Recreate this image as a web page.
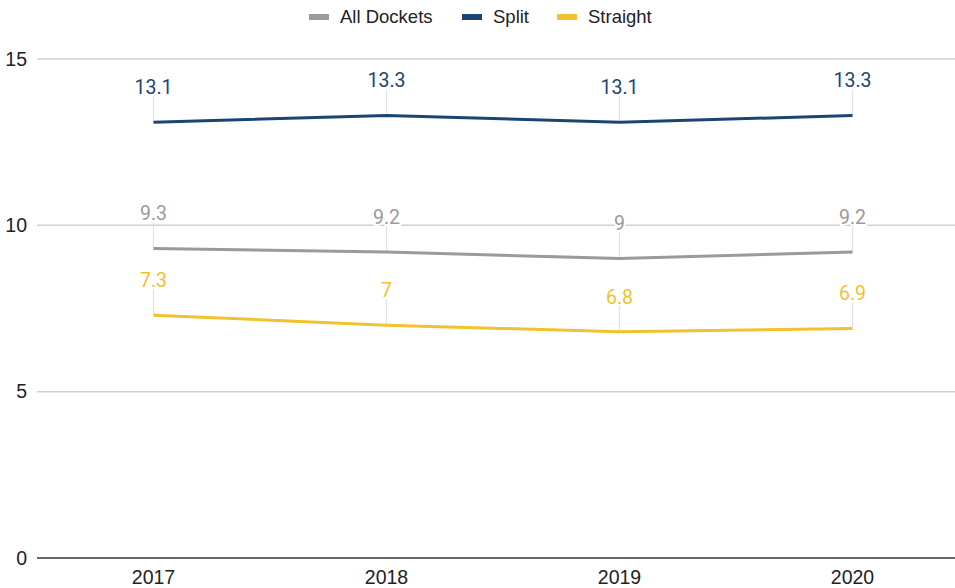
<!DOCTYPE html>
<html>
<head>
<meta charset="utf-8">
<script src="https://cdn.jsdelivr.net/npm/d3@7"></script>
<style>
  body { margin: 0; background: #fff; }
</style>
</head>
<body>
<div class="chart"></div>
<script>
// data
const years = ["2017", "2018", "2019", "2020"];
const allDockets = [9.3, 9.2, 9, 9.2];
const split = [13.1, 13.3, 13.1, 13.3];
const straight = [7.3, 7, 6.8, 6.9];
const yTicks = [0, 5, 10, 15];

const series = [
  { name: "All Dockets", values: allDockets, color: "#9a9a9a" },
  { name: "Split", values: split, color: "#1b4473" },
  { name: "Straight", values: straight, color: "#f2c12e" }
];

const width = 955,
  height = 588;
const margin = { top: 59, right: -14, bottom: 30, left: 37 };

const svg = d3
  .select(".chart")
  .append("svg")
  .attr("width", width)
  .attr("height", height);

const x = d3
  .scaleBand()
  .domain(years)
  .range([margin.left, width - margin.right]);

const y = d3
  .scaleLinear()
  .domain([0, 15])
  .range([height - margin.bottom, margin.top]);

const cx = d => x(d) + x.bandwidth() / 2;

// gridlines
svg
  .append("g")
  .selectAll("line")
  .data(yTicks.filter(t => t > 0))
  .join("line")
  .attr("x1", margin.left)
  .attr("x2", width)
  .attr("y1", d => y(d))
  .attr("y2", d => y(d))
  .attr("stroke", "#d0d0d0")
  .attr("stroke-width", 1.5);

// baseline
svg
  .append("line")
  .attr("x1", margin.left)
  .attr("x2", width)
  .attr("y1", y(0))
  .attr("y2", y(0))
  .attr("stroke", "#333")
  .attr("stroke-width", 1.5);

// y tick labels
svg
  .append("g")
  .selectAll("text")
  .data(yTicks)
  .join("text")
  .attr("x", 27)
  .attr("y", d => y(d))
  .attr("dy", "0.35em")
  .attr("text-anchor", "end")
  .attr("font-family", "Liberation Sans, Arial, sans-serif")
  .attr("font-size", "19.5px")
  .attr("fill", "#222")
  .text(d => d);

// x tick labels
svg
  .append("g")
  .selectAll("text")
  .data(years)
  .join("text")
  .attr("x", d => cx(d))
  .attr("y", y(0) + 19)
  .attr("dy", "0.35em")
  .attr("text-anchor", "middle")
  .attr("font-family", "Liberation Sans, Arial, sans-serif")
  .attr("font-size", "19.5px")
  .attr("fill", "#222")
  .text(d => d);

// leader lines
series.forEach(s => {
  svg
    .append("g")
    .selectAll("line")
    .data(years)
    .join("line")
    .attr("x1", d => cx(d))
    .attr("x2", d => cx(d))
    .attr("y1", (d, i) => y(s.values[i]) - 26)
    .attr("y2", (d, i) => y(s.values[i]))
    .attr("stroke", "#e2e2e2")
    .attr("stroke-width", 1.2);
});

const line = d3
  .line()
  .x((d, i) => cx(years[i]))
  .y(d => y(d));

// lines
series.forEach(s => {
  svg
    .append("path")
    .datum(s.values)
    .attr("fill", "none")
    .attr("stroke", s.color)
    .attr("stroke-width", 3)
    .attr("d", line);
});

// data labels
series.forEach(s => {
  svg
    .append("g")
    .selectAll("text")
    .data(s.values)
    .join("text")
    .attr("x", (d, i) => cx(years[i]))
    .attr("y", d => y(d) - 35)
    .attr("dy", "0.35em")
    .attr("text-anchor", "middle")
    .attr("font-family", "Roboto, sans-serif")
    .attr("font-size", "19.5px")
    .attr("fill", s.color)
    .attr("stroke", "#fff")
    .attr("stroke-width", 4)
    .attr("paint-order", "stroke")
    .text(d => d);
});

// legend
const legendX = [309, 462, 557];
const legend = svg
  .append("g")
  .selectAll("g")
  .data(series)
  .join("g")
  .attr("transform", (d, i) => `translate(${legendX[i]},17)`);

legend
  .append("rect")
  .attr("x", 0)
  .attr("y", -3)
  .attr("width", 20)
  .attr("height", 6)
  .attr("fill", d => d.color);

legend
  .append("text")
  .attr("x", 31)
  .attr("y", 0)
  .attr("dy", "0.35em")
  .attr("font-family", "Liberation Sans, Arial, sans-serif")
  .attr("font-size", "18.5px")
  .attr("fill", "#222")
  .text(d => d.name);
</script>
</body>
</html>
